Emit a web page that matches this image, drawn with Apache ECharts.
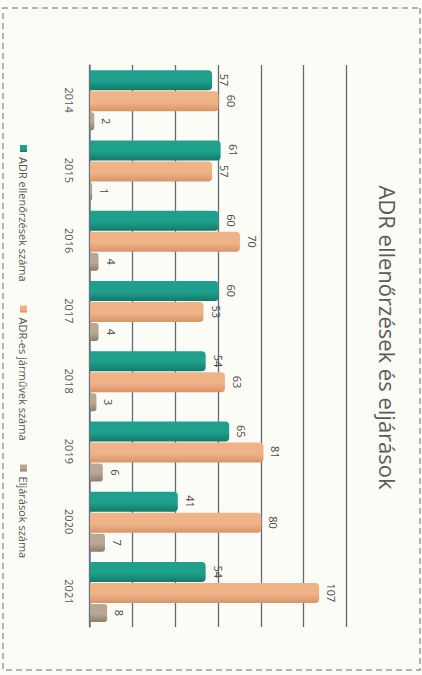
<!DOCTYPE html>
<html>
<head>
<meta charset="utf-8">
<script src="https://cdn.jsdelivr.net/npm/echarts@6/dist/echarts.min.js"></script>
<style>
  html, body { margin: 0; padding: 0; width: 422px; height: 675px; overflow: hidden; background: #fcfcf7; }
  #chart {
    position: absolute; left: 0; top: 0;
    width: 675px; height: 422px;
    transform-origin: 0 0;
    transform: translate(422px, 0) rotate(90deg);
  }
</style>
</head>
<body>
<div id="chart"></div>
<script>
const titleText = 'ADR ellenőrzések és eljárások';
const years = ['2014', '2015', '2016', '2017', '2018', '2019', '2020', '2021'];
const seriesNames = ['ADR ellenőrzések száma', 'ADR-es járművek száma', 'Eljárások száma'];
const inspections = [57, 61, 60, 60, 54, 65, 41, 54];
const vehicles = [60, 57, 70, 53, 63, 81, 80, 107];
const procedures = [2, 1, 4, 4, 3, 6, 7, 8];

const colors = ['#1fa08c', '#f0b387', '#b9a796'];
const dark = ['#147a6a', '#d8956a', '#8e7c6c'];

function grad(i) {
  return new echarts.graphic.LinearGradient(0, 0, 1, 0, [
    { offset: 0, color: colors[i] },
    { offset: 0.55, color: colors[i] },
    { offset: 1, color: dark[i] }
  ]);
}

const chart = echarts.init(document.getElementById('chart'), null, { renderer: 'svg', width: 675, height: 422 });

const labelStyle = { show: true, position: 'top', distance: 7, fontSize: 11, color: '#444', fontFamily: 'Open Sans' };

chart.setOption({
  animation: false,
  backgroundColor: '#fcfcf7',
  title: {
    text: titleText, left: 'center', top: 18,
    textStyle: { fontSize: 22, fontWeight: 'normal', color: '#5a5a5a', fontFamily: 'Open Sans' }
  },
  legend: {
    data: seriesNames, left: 140, bottom: 13,
    itemWidth: 7, itemHeight: 7, itemGap: 24, icon: 'rect',
    textStyle: { fontSize: 11, color: '#555', fontFamily: 'Open Sans' }
  },
  grid: { left: 65, right: 48, top: 75, bottom: 90 },
  xAxis: {
    type: 'category', data: years,
    axisTick: { show: false },
    axisLine: { show: true, lineStyle: { color: '#6c7686', width: 1.5 } },
    axisLabel: { fontSize: 11, color: '#555', margin: 15, fontFamily: 'Open Sans' }
  },
  yAxis: {
    type: 'value', min: 0, max: 120, interval: 20,
    axisLabel: { show: false },
    axisLine: { show: false },
    axisTick: { show: false },
    splitLine: { lineStyle: { color: '#5f6a7c', width: 1.3 } }
  },
  graphic: [{
    type: 'rect', shape: { x: 8, y: 2, width: 662, height: 417 },
    style: { fill: 'none', stroke: '#9a9a9a', lineWidth: 1.5, lineDash: [6, 4] },
    silent: true
  }],
  series: [
    { name: seriesNames[0], type: 'bar', data: inspections, barWidth: 20, barGap: '0%',
      itemStyle: { color: grad(0), borderRadius: [4, 4, 0, 0] }, label: labelStyle },
    { name: seriesNames[1], type: 'bar', data: vehicles, barWidth: 20, barGap: '0%',
      itemStyle: { color: grad(1), borderRadius: [4, 4, 0, 0] }, label: labelStyle },
    { name: seriesNames[2], type: 'bar', data: procedures, barWidth: 18, barGap: '5%',
      itemStyle: { color: grad(2), borderRadius: [3, 3, 0, 0] }, label: labelStyle }
  ]
});
</script>
</body>
</html>
